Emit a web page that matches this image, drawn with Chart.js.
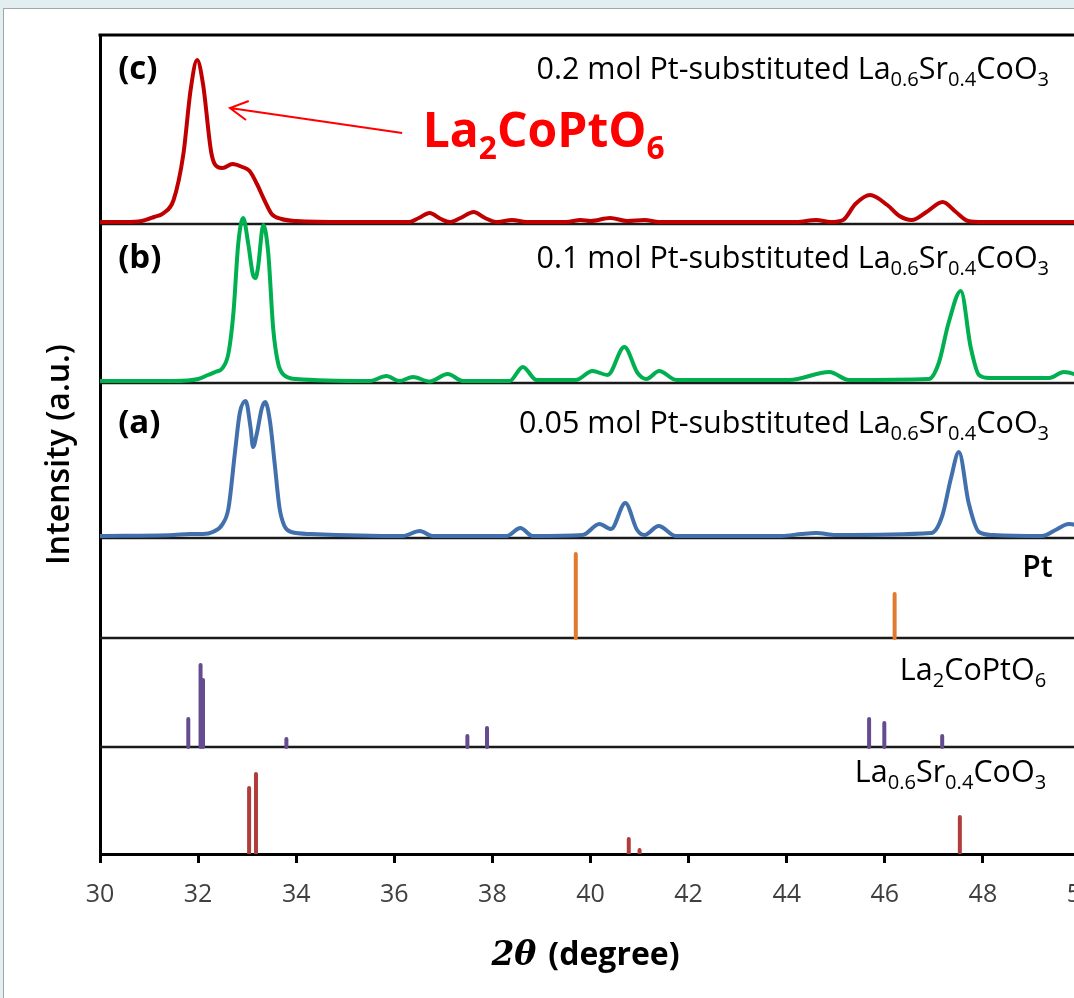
<!DOCTYPE html>
<html>
<head>
<meta charset="utf-8">
<script src="https://cdn.jsdelivr.net/npm/chart.js@4.4.0/dist/chart.umd.min.js"></script>
<style>
  html, body { margin: 0; padding: 0; overflow: hidden; background: #e3eef1; }
  #panel { position: absolute; left: 3px; top: 8px; width: 1200px; height: 1100px; background: #fff; border: 1px solid #9ea9ac; }
  #xrd { position: absolute; left: 0; top: 0; }
</style>
</head>
<body>
<div id="panel"></div>
<canvas id="xrd" width="1100" height="998"></canvas>
<script>
// XRD patterns: [2theta (deg), intensity (a.u.)]
const xTicks = [30, 32, 34, 36, 38, 40, 42, 44, 46, 48, 50];

// (c) 0.2 mol Pt
const patternC = [
  [30, 2], [30.5, 2], [30.85, 3], [31.1, 7], [31.3, 11], [31.5, 24], [31.7, 70], [31.85, 135],
  [31.98, 164], [32.1, 140], [32.27, 71], [32.4, 57], [32.5, 56], [32.7, 60], [32.9, 57],
  [33.05, 53], [33.2, 40], [33.35, 24], [33.5, 10], [33.7, 5], [34, 3], [35, 2], [36.3, 2],
  [36.5, 6], [36.72, 11], [36.95, 5], [37.13, 2], [37.35, 6], [37.62, 12], [37.85, 6], [38.1, 2],
  [38.4, 4], [38.7, 2], [39.5, 2], [39.8, 4], [40.0, 3], [40.4, 6], [40.75, 3], [41.1, 4],
  [41.4, 2], [44.2, 2], [44.6, 4], [44.9, 2], [45.15, 4], [45.4, 20], [45.7, 29], [46.05, 19],
  [46.3, 8], [46.55, 4], [46.85, 12], [47.18, 22], [47.45, 12], [47.7, 3], [48, 2], [50, 2]
];
// (b) 0.1 mol Pt
const patternB = [
  [30, 2], [31.5, 2], [32.0, 4], [32.2, 8], [32.35, 11], [32.5, 15], [32.62, 30], [32.72, 70],
  [32.82, 140], [32.92, 165], [33.02, 140], [33.12, 108], [33.17, 105], [33.22, 115],
  [33.33, 158], [33.43, 130], [33.53, 55], [33.63, 20], [33.75, 8], [34, 4], [35.5, 2],
  [35.84, 7], [36.1, 2], [36.38, 6], [36.72, 1.5], [37.09, 9], [37.4, 2], [38.35, 2],
  [38.62, 16], [38.9, 3], [39.7, 3], [40.04, 12], [40.35, 8], [40.69, 36], [40.96, 10],
  [41.14, 4], [41.4, 12], [41.75, 3], [44.05, 3], [44.87, 11], [45.27, 3], [46.9, 4],
  [47.1, 20], [47.3, 60], [47.55, 92], [47.75, 36], [47.92, 8], [48.13, 5], [49.35, 5],
  [49.65, 11], [50, 7]
];
// (a) 0.05 mol Pt
const patternA = [
  [30, 2], [31.5, 3], [31.83, 4], [32.1, 4], [32.3, 6], [32.5, 14], [32.62, 30], [32.75, 85],
  [32.85, 125], [32.97, 137], [33.07, 110], [33.12, 91], [33.2, 105], [33.3, 130], [33.37, 136],
  [33.47, 115], [33.56, 75], [33.66, 30], [33.76, 12], [33.9, 6], [34.3, 4], [36.17, 2],
  [36.52, 7], [36.78, 2], [38.29, 2], [38.57, 10], [38.82, 2], [39.84, 3], [40.18, 14],
  [40.42, 9], [40.71, 35], [40.95, 8], [41.1, 3], [41.39, 12], [41.74, 2], [43.9, 2], [44.3, 4],
  [44.6, 5], [45.0, 3], [46.95, 5], [47.17, 22], [47.35, 60], [47.51, 86], [47.71, 35],
  [47.92, 6], [48.2, 3], [49.2, 2], [49.48, 8], [49.75, 14], [50, 12]
];
// reference lines
const refPt = [[39.7, 84], [46.2, 44]];
const refLa2CoPtO6 = [[31.8, 28], [32.05, 82], [32.1, 67], [33.8, 8], [37.49, 11], [37.89, 19],
  [45.68, 28], [45.99, 24], [47.17, 11]];
const refLSCO = [[33.04, 66], [33.18, 80], [40.78, 15], [41.0, 4], [47.53, 37]];

const sampleNames = ['0.2 mol Pt-substituted ', '0.1 mol Pt-substituted ', '0.05 mol Pt-substituted '];
const panelTags = ['(c)', '(b)', '(a)'];

// vertical offsets of each stacked panel (same units as intensity)
const offsets = { c: 630, b: 471, a: 316, pt: 216, lcpo: 107, lsco: 0 };
const yTop = 819;

const FONT = "'Open Sans', sans-serif";
const lscoParts = [['La', 0], ['0.6', 1], ['Sr', 0], ['0.4', 1], ['CoO', 0], ['3', 1]];
const lcpoParts = [['La', 0], ['2', 1], ['CoPtO', 0], ['6', 1]];

function curve(points, base, color) {
  return {
    data: points.map(([x, y]) => ({ x, y: y + base })),
    borderColor: color, borderWidth: 4, pointRadius: 0,
    cubicInterpolationMode: 'monotone', fill: false
  };
}

function sticks(points, base, color) {
  const data = [];
  points.forEach(([x, h]) => data.push({ x, y: base }, { x, y: base + h }, { x, y: null }));
  return { data, borderColor: color, borderWidth: 4, borderCapStyle: 'round', pointRadius: 0, spanGaps: false };
}

// text with subscripts, parts = [[text, isSub], ...]
function drawRich(ctx, parts, x, y, size, weight, color, align) {
  const sub = size * 0.66;
  let total = 0;
  const widths = parts.map(([t, s]) => {
    ctx.font = `${weight} ${s ? sub : size}px ${FONT}`;
    const w = ctx.measureText(t).width;
    total += w;
    return w;
  });
  let cx = align === 'right' ? x - total : align === 'center' ? x - total / 2 : x;
  ctx.fillStyle = color;
  ctx.textAlign = 'left';
  ctx.textBaseline = 'alphabetic';
  parts.forEach(([t, s], i) => {
    ctx.font = `${weight} ${s ? sub : size}px ${FONT}`;
    ctx.fillText(t, cx, s ? y + size * 0.24 : y);
    cx += widths[i];
  });
}

const framePlugin = {
  id: 'frame',
  beforeDatasetsDraw(chart) {
    const { ctx, chartArea, scales: { y } } = chart;
    ctx.save();
    ctx.strokeStyle = '#1a1a1a';
    ctx.lineWidth = 2.5;
    [offsets.c, offsets.b, offsets.a, offsets.pt, offsets.lcpo].forEach(v => {
      const py = Math.round(y.getPixelForValue(v));
      ctx.beginPath();
      ctx.moveTo(chartArea.left, py);
      ctx.lineTo(chartArea.right, py);
      ctx.stroke();
    });
    ctx.lineWidth = 3;
    ctx.strokeStyle = '#000';
    ctx.beginPath();
    ctx.moveTo(chartArea.left - 1.5, chartArea.top);
    ctx.lineTo(chartArea.right, chartArea.top);
    ctx.stroke();
    ctx.restore();
  },
  afterDraw(chart) {
    const { ctx, scales: { x, y } } = chart;
    ctx.save();
    const tagX = x.getPixelForValue(30.37);
    const rightX = x.getPixelForValue(49.35);
    const rows = [775, 586, 421];
    rows.forEach((v, i) => {
      const py = y.getPixelForValue(v);
      drawRich(ctx, [[panelTags[i], 0]], tagX, py, 33, 'bold', '#000', 'left');
      drawRich(ctx, [[sampleNames[i], 0], ...lscoParts], rightX, py, 30.5, '500', '#000', 'right');
    });
    drawRich(ctx, [['Pt', 0]], x.getPixelForValue(49.42), y.getPixelForValue(277), 30, '600', '#000', 'right');
    drawRich(ctx, lcpoParts, x.getPixelForValue(49.29), y.getPixelForValue(174), 30.5, '500', '#000', 'right');
    drawRich(ctx, lscoParts, x.getPixelForValue(49.29), y.getPixelForValue(72), 30.5, '500', '#000', 'right');

    // red annotation + arrow pointing at the La2CoPtO6 peak
    drawRich(ctx, lcpoParts, x.getPixelForValue(36.58), y.getPixelForValue(707), 48, 'bold', '#ff0000', 'left');
    const tx = x.getPixelForValue(32.65), ty = y.getPixelForValue(746);
    const fx = x.getPixelForValue(36.16), fy = y.getPixelForValue(721);
    const ang = Math.atan2(fy - ty, fx - tx);
    ctx.strokeStyle = '#ff0000';
    ctx.lineWidth = 2;
    ctx.beginPath();
    ctx.moveTo(fx, fy);
    ctx.lineTo(tx, ty);
    ctx.moveTo(tx + 20 * Math.cos(ang - 0.5), ty + 20 * Math.sin(ang - 0.5));
    ctx.lineTo(tx, ty);
    ctx.lineTo(tx + 20 * Math.cos(ang + 0.5), ty + 20 * Math.sin(ang + 0.5));
    ctx.stroke();

    // axis titles
    ctx.save();
    ctx.translate(58, (chart.chartArea.top + chart.chartArea.bottom) / 2 + 10);
    ctx.rotate(-Math.PI / 2);
    drawRich(ctx, [['Intensity (a.u.)', 0]], 0, 11, 32, '600', '#000', 'center');
    ctx.restore();

    ctx.fillStyle = '#000';
    ctx.textBaseline = 'alphabetic';
    ctx.textAlign = 'left';
    const thetaFont = "bold italic 33px 'DejaVu Serif', serif";
    const degFont = `bold 32px ${FONT}`;
    ctx.font = thetaFont;
    const tw = ctx.measureText('2\u03B8').width + 12;
    ctx.font = degFont;
    const dw = ctx.measureText('(degree)').width;
    const sx = x.getPixelForValue(40) - (tw + dw) / 2 - 5;
    ctx.font = thetaFont;
    ctx.fillText('2\u03B8', sx, 965);
    ctx.font = degFont;
    ctx.fillText('(degree)', sx + tw, 965);
    ctx.restore();
  }
};

new Chart(document.getElementById('xrd'), {
  type: 'line',
  data: {
    datasets: [
      curve(patternC, offsets.c, '#c00000'),
      curve(patternB, offsets.b, '#00b050'),
      curve(patternA, offsets.a, '#4170ad'),
      sticks(refPt, offsets.pt, '#e27a2e'),
      sticks(refLa2CoPtO6, offsets.lcpo, '#654b8f'),
      sticks(refLSCO, offsets.lsco, '#b03c3c')
    ]
  },
  options: {
    responsive: false,
    animation: false,
    layout: { padding: { left: 100, top: 35, right: 19, bottom: 0 } },
    plugins: { legend: { display: false }, tooltip: { enabled: false } },
    scales: {
      x: {
        type: 'linear', min: 30, max: 50,
        afterBuildTicks: s => { s.ticks = xTicks.map(v => ({ value: v })); },
        afterFit: s => { s.height = 144; s.paddingLeft = 0; s.paddingRight = 0; },
        grid: { drawOnChartArea: false, drawTicks: true, tickLength: 9, tickWidth: 3, tickColor: '#000' },
        border: { display: true, color: '#000', width: 3 },
        ticks: { font: { family: FONT, size: 25 }, color: '#404040', padding: 17, maxRotation: 0, autoSkip: false }
      },
      y: {
        min: 0, max: yTop,
        grid: { display: false, drawTicks: false },
        border: { display: true, color: '#000', width: 3 },
        ticks: { display: false }
      }
    }
  },
  plugins: [framePlugin]
});
</script>
</body>
</html>
